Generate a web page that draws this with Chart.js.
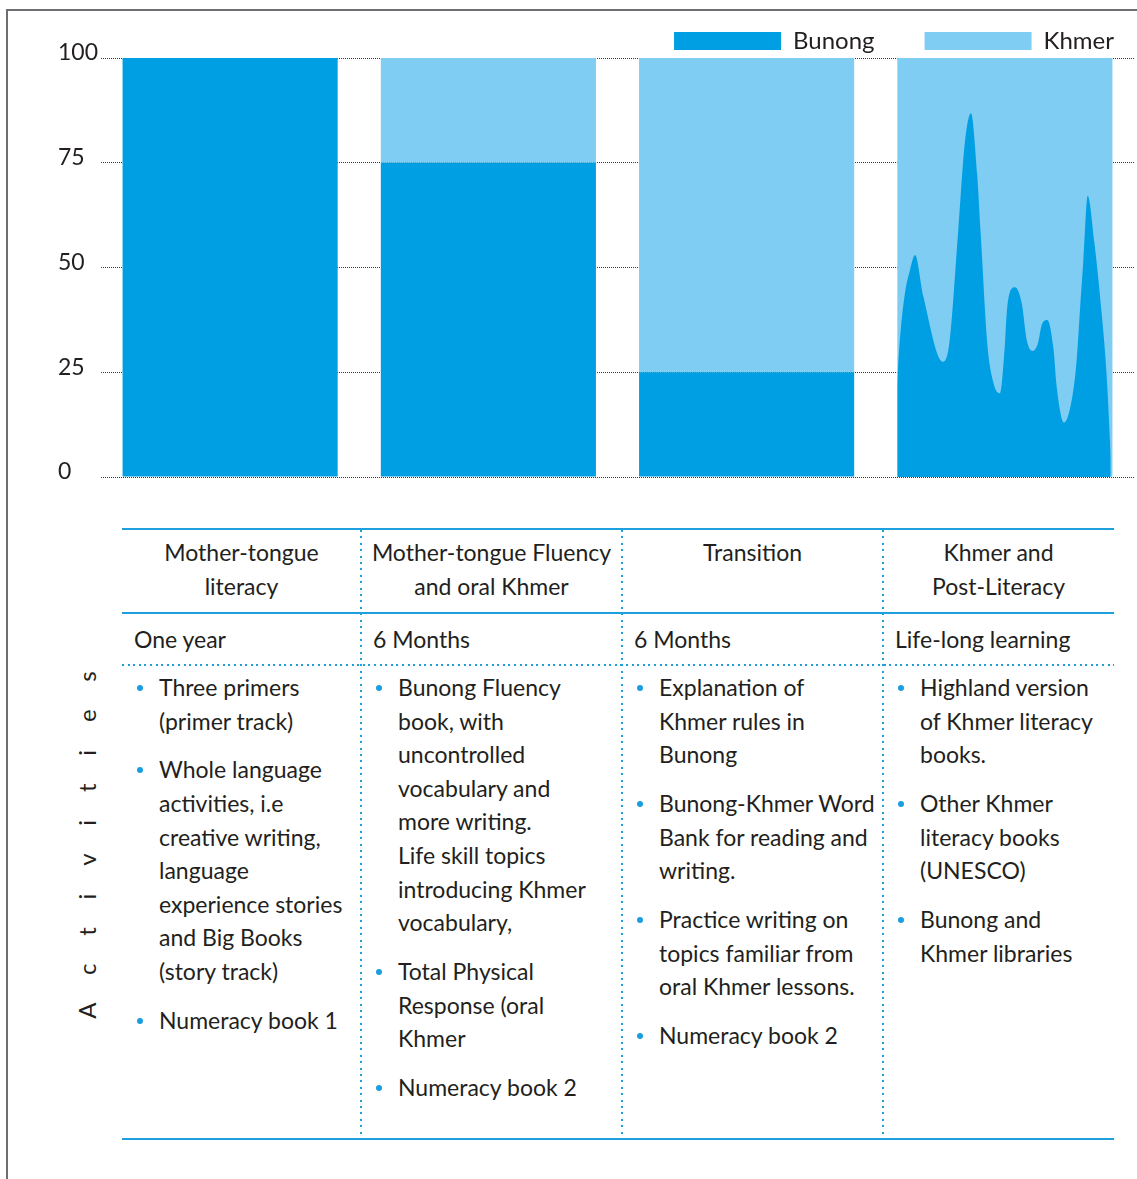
<!DOCTYPE html>
<html>
<head>
<meta charset="utf-8">
<script src="https://cdn.jsdelivr.net/npm/chart.js@4.4.1/dist/chart.umd.min.js"></script>
<style>
html,body{margin:0;padding:0;background:#fff;}
body{width:1137px;height:1179px;position:relative;overflow:hidden;font-family:Lato,"Noto Sans",sans-serif;color:#231f20;}
#frameTop{position:absolute;left:6px;top:9px;right:0;height:2px;background:#6d6e71;}
#frameLeft{position:absolute;left:6px;top:9px;bottom:0;width:2px;background:#6d6e71;}
#chartBox{position:absolute;left:0;}
.hline{position:absolute;left:122px;width:992px;height:2px;background:#1ea0dc;}
.hdot{position:absolute;left:122px;width:992px;height:2px;background:repeating-linear-gradient(to right,#1ea0dc 0 2px,transparent 2px 5.6px);}
.vdot{position:absolute;top:530px;height:609px;width:2px;background:repeating-linear-gradient(to bottom,#1ea0dc 0 2px,transparent 2px 6.4px);}
.txt{position:absolute;white-space:nowrap;font-size:23px;line-height:33.6px;}
.head{text-align:center;}
.item{position:relative;margin-bottom:15.2px;}
.item::before{content:"";position:absolute;left:-22px;top:13.8px;width:6px;height:6px;border-radius:50%;background:#1a9ee0;}
#act{position:absolute;left:87px;top:845px;transform:translate(-50%,-50%) rotate(-90deg);font-size:24px;letter-spacing:27.8px;padding-left:27.8px;white-space:nowrap;line-height:30px;}
</style>
</head>
<body>
<div id="frameTop"></div>
<div id="frameLeft"></div>
<div id="chartBox"><canvas id="c"></canvas></div>
<div id="table"></div>
<div id="act">Activities</div>
<script>
// ---- data ----
const stages = ['Mother-tongue literacy', 'Mother-tongue Fluency and oral Khmer', 'Transition', 'Khmer and Post-Literacy'];
const bunong = [100, 75, 25, 0];
const khmer = [0, 25, 75, 100];
const yTicks = [0, 25, 50, 75, 100];
// Bunong use within the post-literacy stage (x in stage units 0..4, y in %)
const waveX = [3.0834, 3.0873, 3.0966, 3.1133, 3.1326, 3.1520, 3.1846, 3.2592, 3.2850, 3.3196, 3.3453, 3.3688, 3.3930, 3.4065, 3.4317, 3.4562, 3.4811, 3.5005, 3.5070, 3.5198, 3.5392, 3.5651, 3.5845, 3.6077, 3.6283, 3.6426, 3.6643, 3.6875, 3.7007, 3.7290, 3.7588, 3.7781, 3.7909, 3.8038, 3.8207, 3.8465, 3.8749, 3.8943, 3.9098];
const waveY = [22, 27, 35, 44, 49.4, 53, 43, 27.5, 32, 59, 80, 86.8, 72, 58, 32, 22.4, 20, 32, 39, 44.2, 45.3, 41.5, 32.7, 30.1, 32, 36.3, 37.5, 31, 21.5, 13, 18.4, 28, 40, 51.6, 67.1, 56, 39, 24, 5];

const headers = [['Mother-tongue', 'literacy'], ['Mother-tongue Fluency', 'and oral Khmer'], ['Transition'], ['Khmer and', 'Post-Literacy']];
const durations = ['One year', '6 Months', '6 Months', 'Life-long learning'];
const activities = [
  [['Three primers', '(primer track)'], ['Whole language', 'activities, i.e', 'creative writing,', 'language', 'experience stories', 'and Big Books', '(story track)'], ['Numeracy book 1']],
  [['Bunong Fluency', 'book, with', 'uncontrolled', 'vocabulary and', 'more writing.', 'Life skill topics', 'introducing Khmer', 'vocabulary,'], ['Total Physical', 'Response (oral', 'Khmer'], ['Numeracy book 2']],
  [['Explanation of', 'Khmer rules in', 'Bunong'], ['Bunong-Khmer Word', 'Bank for reading and', 'writing.'], ['Practice writing on', 'topics familiar from', 'oral Khmer lessons.'], ['Numeracy book 2']],
  [['Highland version', 'of Khmer literacy', 'books.'], ['Other Khmer', 'literacy books', '(UNESCO)'], ['Bunong and', 'Khmer libraries']]
];

// ---- styles ----
const DARK = '#009fe3';
const LIGHT = '#80cdf3';
const FONT = 'Lato';

// ---- table ----
const colL = [122, 361, 622, 883];
const colR = [361, 622, 883, 1114];
const table = document.getElementById('table');
function add(cls, css, html) {
  const d = document.createElement('div');
  d.className = cls; d.style.cssText = css; if (html !== undefined) d.innerHTML = html;
  table.appendChild(d); return d;
}
add('hline', 'top:528px');
add('hline', 'top:612px');
add('hdot', 'top:664px');
add('hline', 'top:1138px');
[361, 622, 883].forEach(x => add('vdot', 'left:' + (x - 1) + 'px'));
headers.forEach((h, i) => {
  add('txt head', `left:${colL[i]}px;width:${colR[i] - colL[i]}px;top:536px`, h.join('<br>'));
});
durations.forEach((d, i) => add('txt', `left:${colL[i] + 12}px;top:623px`, d));
activities.forEach((col, i) => {
  const c = add('txt', `left:${colL[i] + 37}px;top:671px`);
  col.forEach(it => {
    const d = document.createElement('div');
    d.className = 'item'; d.innerHTML = it.join('<br>');
    c.appendChild(d);
  });
});

// ---- chart geometry (legend spacing) ----
const mctx = document.createElement('canvas').getContext('2d');
mctx.font = '24px ' + FONT;
const wB = mctx.measureText('Bunong').width;
const legendRight = 1114;
const pad = Math.round(923 - 672 - (107 + 12 + wB));
const cw = legendRight + pad;
const topPage = 29 - pad;
const ch = 448 + pad + 20;
const box = document.getElementById('chartBox');
box.style.top = topPage + 'px';
const cv = document.getElementById('c');
cv.width = cw; cv.height = ch;
cv.style.width = cw + 'px'; cv.style.height = ch + 'px';

Chart.defaults.font.family = FONT;
Chart.defaults.color = '#231f20';

new Chart(cv, {
  type: 'bar',
  data: {
    labels: stages,
    datasets: [
      {
        type: 'line', label: 'Bunong (post-literacy)',
        data: waveX.map((x, i) => ({ x: x, y: waveY[i] })),
        xAxisID: 'x2', yAxisID: 'y', fill: 'origin',
        backgroundColor: DARK, borderWidth: 0, borderColor: DARK,
        pointRadius: 0, cubicInterpolationMode: 'monotone', order: 0
      },
      { label: 'Bunong', data: bunong, backgroundColor: DARK, order: 1, grouped: false, categoryPercentage: 1, barPercentage: 0.833, xAxisID: 'x', yAxisID: 'y' },
      { label: 'Khmer', data: khmer, backgroundColor: LIGHT, order: 1, grouped: false, categoryPercentage: 1, barPercentage: 0.833, xAxisID: 'x', yAxisID: 'y' }
    ]
  },
  options: {
    responsive: false,
    animation: false,
    events: [],
    layout: { padding: { left: 58, right: 0, top: 0, bottom: 20 } },
    plugins: {
      tooltip: { enabled: false },
      legend: {
        position: 'top', align: 'end', maxHeight: 24 + pad + 5,
        labels: {
          boxWidth: 107, boxHeight: 18, padding: pad,
          font: { size: 24, family: FONT }, color: '#231f20',
          filter: item => item.datasetIndex > 0
        }
      }
    },
    scales: {
      x: { type: 'category', display: false, stacked: true, offset: true },
      x2: { type: 'linear', display: false, min: 0, max: 4, offset: false },
      y: {
        stacked: true, min: 0, max: 100, z: 1,
        afterBuildTicks: s => { s.ticks = yTicks.map(v => ({ value: v })); },
        afterFit: s => { s.width = 43; },
        ticks: { crossAlign: 'far', padding: 3, labelOffset: -5, color: '#231f20', font: { size: 23, family: FONT } },
        grid: { color: '#3a3a3a', lineWidth: 1, drawTicks: false },
        border: { display: false, dash: [1, 1] }
      },
      yR: {
        type: 'linear', position: 'right', display: true,
        grid: { display: false }, ticks: { display: false }, border: { display: false },
        afterFit: s => { s.width = cw - 1134; }
      }
    }
  }
});
</script>
</body>
</html>
